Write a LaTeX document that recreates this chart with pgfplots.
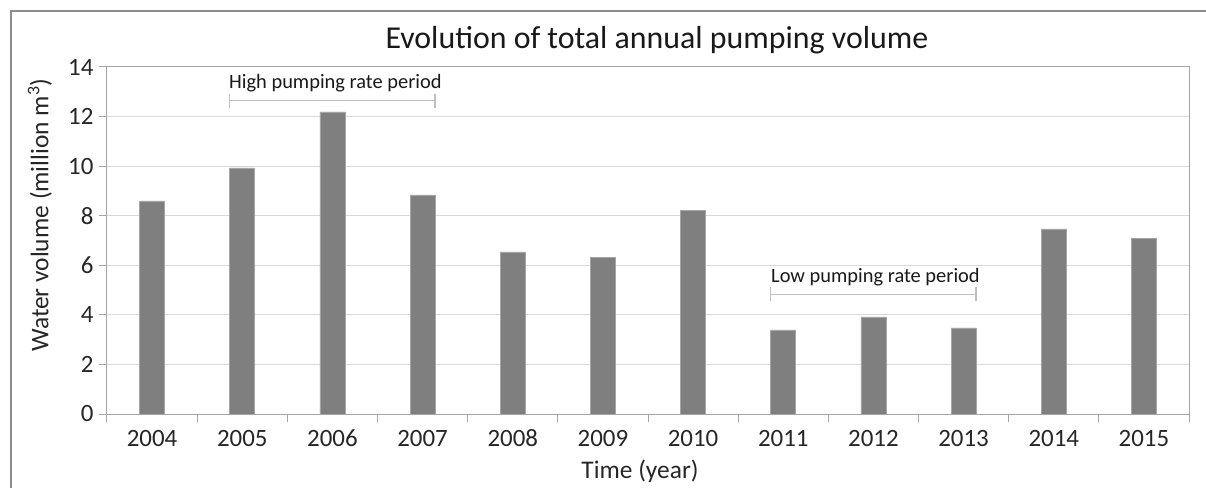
\documentclass[border=0pt]{standalone}
\usepackage{pgfplots}
\pgfplotsset{compat=1.18}
\usepackage{fontspec}
\setmainfont{Carlito}
\definecolor{barfill}{HTML}{7F7F7F}
\definecolor{baredge}{HTML}{A6A6A6}
\definecolor{gridc}{HTML}{D9D9D9}
\definecolor{axc}{HTML}{A6A6A6}
\definecolor{brk}{HTML}{BFBFBF}
\definecolor{framec}{HTML}{8C8C8C}
\begin{document}
\begin{tikzpicture}
\path[use as bounding box] (-107bp,-74bp) rectangle (1099bp,414bp);
\draw[framec, line width=1.5bp] (-96bp,-74bp) -- (-96bp,403bp) -- (1099bp,403bp);
\begin{axis}[
  scale only axis,
  width=1082bp, height=347bp,
  xmin=-0.5, xmax=11.5,
  ymin=0, ymax=14,
  ytick={0,2,...,14},
  xtick={-0.5,0.5,...,11.5},
  x tick label as interval,
  xticklabels={2004,2005,2006,2007,2008,2009,2010,2011,2012,2013,2014,2015},
  /pgf/number format/assume math mode=true,
  ymajorgrids,
  grid style={gridc, line width=1bp},
  axis line style={axc, line width=1bp},
  tick style={axc, line width=1bp},
  tick align=outside,
  major tick length=8bp,
  xtick pos=bottom, ytick pos=left,
  ticklabel style={font=\fontsize{25}{29}\selectfont, text=black!85},
  yticklabel style={anchor=east, xshift=-2bp},
  xticklabel style={anchor=north, text height=17bp, text depth=4bp, yshift=-4bp},
  xlabel={Time (year)},
  ylabel={Water volume (million m\textsuperscript{3})},
  label style={font=\fontsize{25.5}{29}\selectfont, text=black!85},
  xlabel style={at={(rel axis cs:0.4926,-0.165)}, anchor=center},
  ylabel style={at={(rel axis cs:-0.062,0.573)}, anchor=center},
  clip=false,
]
\addplot[ybar, bar width=25bp, fill=barfill, draw=baredge, line width=0.6bp]
  coordinates {(0,8.60) (1,9.93) (2,12.19) (3,8.84) (4,6.54) (5,6.32)
               (6,8.23) (7,3.39) (8,3.92) (9,3.47) (10,7.47) (11,7.10)};
\draw[brk, line width=1.5bp] (axis cs:0.861,12.64) -- (axis cs:3.139,12.64);
\draw[brk, line width=1.5bp] (axis cs:0.861,12.36) -- (axis cs:0.861,12.92);
\draw[brk, line width=1.5bp] (axis cs:3.139,12.36) -- (axis cs:3.139,12.92);
\draw[brk, line width=1.5bp] (axis cs:6.861,4.83) -- (axis cs:9.139,4.83);
\draw[brk, line width=1.5bp] (axis cs:6.861,4.55) -- (axis cs:6.861,5.11);
\draw[brk, line width=1.5bp] (axis cs:9.139,4.55) -- (axis cs:9.139,5.11);
\node[anchor=west, inner sep=0pt, font=\fontsize{20.5}{24}\selectfont, text=black!90] at (axis cs:0.853,13.35) {High pumping rate period};
\node[anchor=west, inner sep=0pt, font=\fontsize{20.5}{24}\selectfont, text=black!90] at (axis cs:6.864,5.52) {Low pumping rate period};
\node[anchor=center, inner sep=0pt, font=\fontsize{32}{36}\selectfont, text=black!90] at (rel axis cs:0.5083,1.078) {Evolution of total annual pumping volume};
\end{axis}
\end{tikzpicture}
\end{document}
